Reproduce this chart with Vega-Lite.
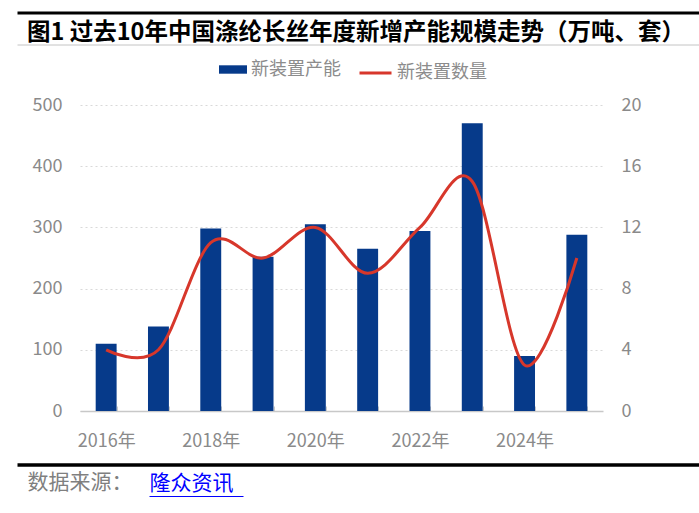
{
  "$schema": "https://vega.github.io/schema/vega-lite/v6.json",
  "width": 523,
  "height": 306,
  "autosize": {"type": "none"},
  "padding": {"left": 80, "top": 105, "right": 96, "bottom": 102},
  "background": "#ffffff",
  "title": {
    "text": "图1 过去10年中国涤纶长丝年度新增产能规模走势（万吨、套）",
    "anchor": "start",
    "frame": "group",
    "dx": -53,
    "dy": 36,
    "fontSize": 23.5,
    "font": "Noto Sans CJK SC",
    "fontWeight": "bold",
    "color": "#000000"
  },
  "config": {
    "view": {"stroke": null},
    "font": "Noto Sans CJK SC"
  },
  "data": {
    "values": [
      {"year": "2016", "capacity": 110, "count": 4},
      {"year": "2017", "capacity": 138, "count": 4},
      {"year": "2018", "capacity": 298, "count": 11},
      {"year": "2019", "capacity": 252, "count": 10},
      {"year": "2020", "capacity": 305, "count": 12},
      {"year": "2021", "capacity": 265, "count": 9},
      {"year": "2022", "capacity": 294, "count": 12},
      {"year": "2023", "capacity": 470, "count": 15},
      {"year": "2024", "capacity": 90, "count": 3},
      {"year": "2025", "capacity": 288, "count": 10}
    ]
  },
  "layer": [
    {
      "mark": {"type": "bar"},
      "encoding": {
        "x": {
          "field": "year", "type": "ordinal",
          "scale": {"type": "band", "paddingInner": 0.6, "paddingOuter": 0.3},
          "axis": {
            "orient": "bottom",
            "title": "数据来源：",
            "titleX": -53, "titleY": 71,
            "titleAlign": "left", "titleBaseline": "middle",
            "titleFontSize": 21, "titleFontWeight": "normal", "titleColor": "#7f7f7f",
            "labelExpr": "isValid(datum.value) && toNumber(datum.value) % 2 == 0 ? datum.value + '年' : ''",
            "labelAngle": 0, "labelFontSize": 18, "labelColor": "#8a8a8a", "labelPadding": 26,
            "domainColor": "#c8c8c8", "domainWidth": 1.5,
            "tickColor": "#c8c8c8", "tickSize": -5, "tickBand": "extent",
            "grid": false
          }
        },
        "y": {
          "field": "capacity", "type": "quantitative",
          "scale": {"domain": [0, 500]},
          "axis": {
            "orient": "left", "title": null,
            "values": [0, 100, 200, 300, 400, 500],
            "grid": true, "gridColor": "#d9d9d9", "gridDash": [2, 3],
            "domain": false, "ticks": false,
            "labelPadding": 18, "labelFontSize": 18, "labelColor": "#8a8a8a"
          }
        },
        "fill": {
          "datum": "新装置产能",
          "scale": {"range": ["#063a8a"]},
          "legend": {
            "title": null, "orient": "none", "legendX": 139, "legendY": -49.5,
            "symbolType": "M-1,-0.3H1V0.3H-1Z", "symbolSize": 784, "symbolStrokeWidth": 0,
            "labelFontSize": 18, "labelColor": "#8c8c8c", "labelOffset": 4, "padding": 0
          }
        }
      }
    },
    {
      "mark": {"type": "line", "interpolate": "cardinal", "strokeWidth": 3},
      "encoding": {
        "x": {
          "field": "year", "type": "ordinal",
          "scale": {"type": "band", "paddingInner": 0.6, "paddingOuter": 0.3},
          "axis": null
        },
        "y": {
          "field": "count", "type": "quantitative",
          "scale": {"domain": [0, 20]},
          "axis": {
            "orient": "right", "title": null,
            "values": [0, 4, 8, 12, 16, 20],
            "grid": false, "domain": false, "ticks": false,
            "labelPadding": 18, "labelFontSize": 18, "labelColor": "#8a8a8a"
          }
        },
        "stroke": {
          "datum": "新装置数量",
          "scale": {"range": ["#d7372b"]},
          "legend": {
            "title": null, "orient": "none", "legendX": 278, "legendY": -49.5,
            "symbolType": "stroke", "symbolSize": 1024, "symbolStrokeWidth": 3,
            "labelFontSize": 18, "labelColor": "#8c8c8c", "labelOffset": 4, "padding": 0
          }
        }
      }
    },
    {
      "mark": {"type": "tick", "opacity": 0},
      "encoding": {
        "x": {
          "field": "year", "type": "ordinal",
          "scale": {"type": "point", "range": [-63, 619]},
          "axis": {"orient": "top", "offset": 92.5, "domainColor": "#000000", "domainWidth": 3, "ticks": false, "labels": false, "title": null, "grid": false}
        }
      }
    },
    {
      "mark": {"type": "tick", "opacity": 0},
      "encoding": {
        "x": {
          "field": "year", "type": "ordinal",
          "scale": {"type": "point", "range": [-63, 619]},
          "axis": {"orient": "top", "offset": 60.5, "domainColor": "#c4c4c4", "domainWidth": 1, "ticks": false, "labels": false, "title": null, "grid": false}
        }
      }
    },
    {
      "mark": {"type": "tick", "opacity": 0},
      "encoding": {
        "x": {
          "field": "year", "type": "ordinal",
          "scale": {"type": "point", "range": [-63, 619]},
          "axis": {
            "orient": "bottom", "offset": 53.5, "domainColor": "#000000", "domainWidth": 3.5, "ticks": false, "labels": false, "grid": false,
            "title": "隆众资讯", "titleX": 69, "titleY": 19, "titleAlign": "left", "titleBaseline": "middle",
            "titleFontSize": 21, "titleFontWeight": "normal", "titleColor": "#0000ff"
          }
        }
      }
    },
    {
      "mark": {"type": "tick", "opacity": 0},
      "encoding": {
        "x": {
          "field": "year", "type": "ordinal",
          "scale": {"type": "point", "range": [69, 163]},
          "axis": {"orient": "bottom", "offset": 85, "domainColor": "#0000ff", "domainWidth": 1, "ticks": false, "labels": false, "title": null, "grid": false}
        }
      }
    }
  ],
  "resolve": {
    "scale": {"x": "independent", "y": "independent"},
    "axis": {"x": "independent", "y": "independent"}
  }
}
